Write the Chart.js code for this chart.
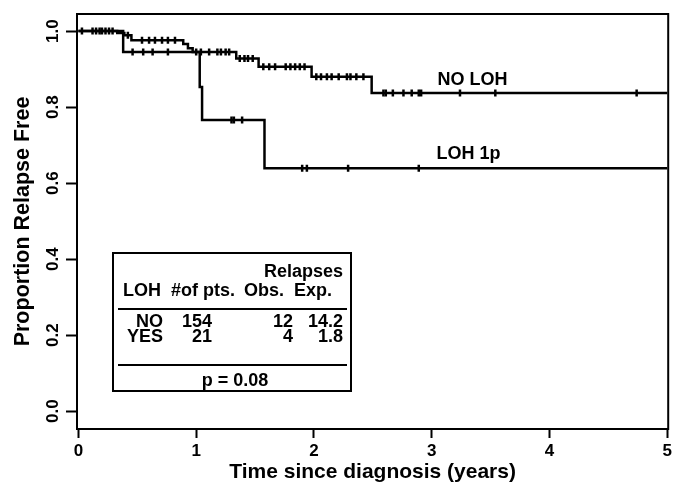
<!DOCTYPE html>
<html>
<head>
<meta charset="utf-8">
<script src="https://cdn.jsdelivr.net/npm/chart.js@4/dist/chart.umd.min.js"></script>
<style>
  html, body { margin: 0; padding: 0; background: #fff; }
  #wrap { width: 675px; height: 485px; }
</style>
</head>
<body>
<div id="wrap"><canvas id="c" width="675" height="485"></canvas></div>
<script>
// ---- data ----
const noLohTimes = [0, 0.33, 0.39, 0.45, 0.89, 0.93, 0.97, 1.34, 1.53, 1.98, 2.49, 5.0];
const noLohSurv  = [1.0, 0.995, 0.989, 0.976, 0.966, 0.955, 0.945, 0.928, 0.906, 0.880, 0.837, 0.837];
const lohTimes   = [0, 0.38, 1.03, 1.05, 1.58, 5.0];
const lohSurv    = [1.0, 0.945, 0.853, 0.766, 0.639, 0.639];
const noLohCensor = [0.03, 0.12, 0.15, 0.18, 0.2, 0.23, 0.26, 0.29, 0.42, 0.54, 0.6, 0.65, 0.71, 0.76, 0.82,
  1.0, 1.04, 1.11, 1.18, 1.21, 1.25, 1.28, 1.37, 1.41, 1.44, 1.48, 1.57, 1.62, 1.67, 1.76, 1.8, 1.84, 1.88, 1.92,
  2.02, 2.06, 2.11, 2.15, 2.21, 2.28, 2.31, 2.36, 2.42, 2.59, 2.61, 2.67, 2.76, 2.83, 2.89, 2.91, 3.24, 3.54, 4.74];
const lohCensor = [0.46, 0.55, 0.63, 0.76, 1.3, 1.32, 1.39, 1.9, 1.94, 2.29, 2.89];
const xTicks = [0, 1, 2, 3, 4, 5];
const yTicks = [0, 0.2, 0.4, 0.6, 0.8, 1.0];
const seriesLabels = ['NO LOH', 'LOH 1p'];
const tableHeader = ['LOH', '#of pts.', 'Obs.', 'Exp.'];
const tableRows = [['NO', '154', '12', '14.2'], ['YES', '21', '4', '1.8']];
const pValueText = 'p = 0.08';

// ---- helpers ----
function stepPoints(times, surv) { return times.map((t, i) => ({ x: t, y: surv[i] })); }
function survAt(times, surv, t) {
  let v = surv[0];
  for (let i = 0; i < times.length; i++) { if (times[i] <= t) v = surv[i]; }
  return v;
}
function censorPoints(cens, times, surv) { return cens.map(t => ({ x: t, y: survAt(times, surv, t) })); }

const FAM = '"Liberation Sans", Arial, sans-serif';

const boxPlugin = {
  id: 'boxAndTable',
  afterDraw(chart) {
    const ctx = chart.ctx;
    const a = chart.chartArea;
    const xs = chart.scales.x, ys = chart.scales.y;
    ctx.save();
    ctx.strokeStyle = '#000';
    ctx.lineWidth = 2;
    ctx.strokeRect(a.left, a.top, a.right - a.left, a.bottom - a.top);

    // curve labels
    ctx.fillStyle = '#000';
    ctx.font = 'bold 18px ' + FAM;
    ctx.textAlign = 'left';
    ctx.textBaseline = 'middle';
    ctx.fillText(seriesLabels[0], xs.getPixelForValue(3.05), ys.getPixelForValue(0.871));
    ctx.fillText(seriesLabels[1], xs.getPixelForValue(3.04), ys.getPixelForValue(0.676));

    // inset table
    ctx.font = 'bold 18px ' + FAM;
    const L = 113, T = 253, R = 351, B = 391;
    ctx.strokeRect(L, T, R - L, B - T);
    ctx.beginPath();
    ctx.moveTo(118, 309); ctx.lineTo(347, 309);
    ctx.moveTo(118, 365); ctx.lineTo(347, 365);
    ctx.stroke();
    ctx.textAlign = 'right';
    ctx.fillText('Relapses', 343, 272);
    ctx.textAlign = 'left';
    ctx.fillText(tableHeader[0], 123, 291);
    ctx.fillText(tableHeader[1], 171, 291);
    ctx.fillText(tableHeader[2], 244, 291);
    ctx.fillText(tableHeader[3], 294, 291);
    ctx.textAlign = 'right';
    const colR = [163, 212, 293, 343];
    const rowY = [322, 337];
    tableRows.forEach((row, r) => {
      row.forEach((cell, c) => ctx.fillText(cell, colR[c], rowY[r]));
    });
    ctx.textAlign = 'center';
    ctx.fillText(pValueText, 235, 381);
    ctx.restore();
  }
};

new Chart(document.getElementById('c'), {
  type: 'line',
  data: {
    datasets: [
      { label: seriesLabels[0], data: stepPoints(noLohTimes, noLohSurv), stepped: 'before',
        borderColor: '#000', borderWidth: 2.5, pointRadius: 0, fill: false },
      { label: seriesLabels[1], data: stepPoints(lohTimes, lohSurv), stepped: 'before',
        borderColor: '#000', borderWidth: 2.5, pointRadius: 0, fill: false },
      { label: 'NO LOH censored', data: censorPoints(noLohCensor, noLohTimes, noLohSurv), showLine: false,
        pointStyle: 'line', rotation: 90, pointRadius: 3.5, borderColor: '#000', backgroundColor: '#000', pointBorderWidth: 2.5 },
      { label: 'LOH censored', data: censorPoints(lohCensor, lohTimes, lohSurv), showLine: false,
        pointStyle: 'line', rotation: 90, pointRadius: 3.5, borderColor: '#000', backgroundColor: '#000', pointBorderWidth: 2.5 }
    ]
  },
  options: {
    responsive: false,
    animation: false,
    devicePixelRatio: 1,
    layout: { padding: { top: 14, right: 4, left: 0, bottom: 0 } },
    plugins: { legend: { display: false }, tooltip: { enabled: false } },
    scales: {
      x: {
        type: 'linear', min: -0.012, max: 5.008,
        afterBuildTicks: s => { s.ticks = xTicks.map(v => ({ value: v })); },
        afterFit: s => { s.height = 56; },
        ticks: { color: '#000', font: { family: FAM, size: 17, weight: 'bold' },
                 padding: 3, maxRotation: 0, callback: v => String(v) },
        grid: { display: true, drawOnChartArea: false, drawTicks: true, tickLength: 9, tickWidth: 2, tickColor: '#000' },
        border: { display: true, color: '#000', width: 2 },
        title: { display: true, text: 'Time since diagnosis (years)', color: '#000',
                 font: { family: FAM, size: 21, weight: 'bold' }, padding: { top: 0, bottom: 0 } }
      },
      y: {
        type: 'linear', min: -0.047, max: 1.045,
        afterBuildTicks: s => { s.ticks = yTicks.map(v => ({ value: v })); },
        afterFit: s => { s.width = 77; },
        ticks: { color: '#000', font: { family: FAM, size: 17, weight: 'bold' },
                 padding: 1, minRotation: 90, maxRotation: 90, crossAlign: 'center', callback: v => Number(v).toFixed(1) },
        grid: { display: true, drawOnChartArea: false, drawTicks: true, tickLength: 11, tickWidth: 2, tickColor: '#000' },
        border: { display: true, color: '#000', width: 2 },
        title: { display: true, text: 'Proportion Relapse Free', color: '#000',
                 font: { family: FAM, size: 21.5, weight: 'bold' }, padding: { top: 10, bottom: 0 } }
      }
    }
  },
  plugins: [boxPlugin]
});
</script>
</body>
</html>
